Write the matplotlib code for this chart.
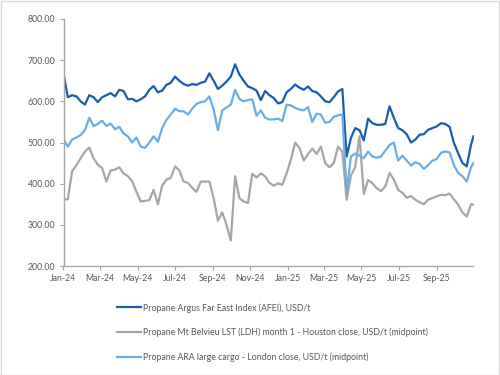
import pandas as pd
import matplotlib
matplotlib.use('Agg')
from matplotlib import pyplot as plt
import matplotlib.dates as mdates
from matplotlib.patches import Rectangle

# weekly readings from 2024-01-01, last value is 2025-10-31
afei = [668, 610, 615, 612, 600, 592, 615, 610, 598, 610,
        615, 620, 612, 628, 625, 605, 606, 600, 605, 612,
        628, 637, 622, 626, 640, 645, 660, 650, 642, 638,
        642, 640, 645, 648, 668, 650, 630, 638, 648, 660,
        690, 665, 650, 636, 632, 626, 603, 625, 615, 608,
        595, 598, 622, 630, 641, 633, 628, 636, 625, 622,
        612, 600, 598, 610, 624, 630, 466, 511, 535, 530,
        505, 558, 547, 543, 543, 545, 588, 560, 535, 530,
        520, 500, 507, 519, 520, 531, 535, 539, 547, 545,
        538, 499, 474, 450, 442, 495,
        515]
mtb = [362, 362, 430, 445, 462, 478, 488, 462, 446, 438,
       405, 432, 434, 440, 425, 418, 406, 380, 357, 358,
       360, 385, 350, 395, 410, 414, 442, 432, 405, 402,
       390, 380, 405, 405, 405, 365, 310, 330, 300, 262,
       418, 365, 357, 353, 424, 415, 425, 418, 402, 395,
       401, 397, 425, 458, 500, 487, 456, 472, 485, 472,
       490, 450, 440, 450, 490, 478, 361, 420, 440, 515,
       375, 409, 401, 389, 382, 393, 426, 410, 385, 378,
       366, 370, 361, 355, 350, 361, 365, 369, 373, 372,
       376, 362, 349, 330, 320, 350,
       349]
ara = [508, 490, 507, 512, 518, 530, 560, 540, 545, 553,
       540, 546, 532, 538, 522, 515, 500, 512, 490, 487,
       500, 515, 502, 535, 555, 568, 582, 576, 576, 568,
       582, 594, 598, 600, 612, 580, 530, 578, 585, 592,
       628, 606, 600, 603, 605, 565, 578, 560, 556, 556,
       558, 552, 592, 590, 584, 580, 578, 586, 550, 570,
       568, 548, 550, 562, 566, 568, 380, 466, 473, 468,
       462, 478, 466, 463, 466, 480, 494, 500, 456, 468,
       456, 444, 452, 448, 436, 445, 456, 460, 475, 478,
       476, 445, 426, 418, 405, 440,
       450]
labels = ['Propane Argus Far East Index (AFEI), USD/t',
          'Propane Mt Belvieu LST (LDH) month 1 - Houston close, USD/t (midpoint)',
          'Propane ARA large cargo - London close, USD/t (midpoint)']
colors = ['#1a5cad', '#a6a6a6', '#6aaee6']

dates = list(pd.date_range('2024-01-01', periods=96, freq='7D')) + [pd.Timestamp('2025-10-31')]

plt.rcParams['font.family'] = ['Lato', 'DejaVu Sans']
fig = plt.figure(figsize=(5, 3.75), dpi=100)
ax = fig.add_axes([63.5/500, 1-266/375, (473.5-63.5)/500, (266-19)/375])

for vals, lab, c in zip([afei, mtb, ara], labels, colors):
    ax.plot(dates, vals, color=c, lw=1.6, label=lab)

ax.set_xlim(pd.Timestamp('2024-01-01'), pd.Timestamp('2025-10-31'))
ax.set_ylim(200, 800)
ax.set_yticks(range(200, 801, 100))
ax.yaxis.set_major_formatter(matplotlib.ticker.FuncFormatter(lambda v, p: f'{v:.2f}'))
ax.xaxis.set_major_locator(mdates.MonthLocator(bymonth=[1, 3, 5, 7, 9, 11]))
ax.xaxis.set_major_formatter(mdates.DateFormatter('%b-%y'))
xt = [t for t in ax.get_xticks()]
for s in ['top', 'right']:
    ax.spines[s].set_visible(False)
for s in ['left', 'bottom']:
    ax.spines[s].set_color('#a6a6a6')
    ax.spines[s].set_linewidth(1.0)
ax.tick_params(axis='both', colors='#a6a6a6', length=3, width=0.8, labelsize=6.3,
               labelcolor='#595959', pad=3)
# hide the Nov-25 label if it appears (axis ends before it)
ax.set_xticks([t for t in xt if t <= mdates.date2num(pd.Timestamp('2025-10-31'))])

leg = fig.legend(loc='upper left', bbox_to_anchor=(117/500, 1-303/375), frameon=False,
                 fontsize=6.3, handlelength=2.7, handletextpad=0.3, labelspacing=1.75,
                 borderpad=0, borderaxespad=0)
for t in leg.get_texts():
    t.set_color('#595959')

fig.patches.append(Rectangle((0.001, 0.001), 0.997, 0.996, transform=fig.transFigure,
                             fill=False, edgecolor='#d9d9d9', lw=1))

fig.savefig('out.png', dpi=100)
